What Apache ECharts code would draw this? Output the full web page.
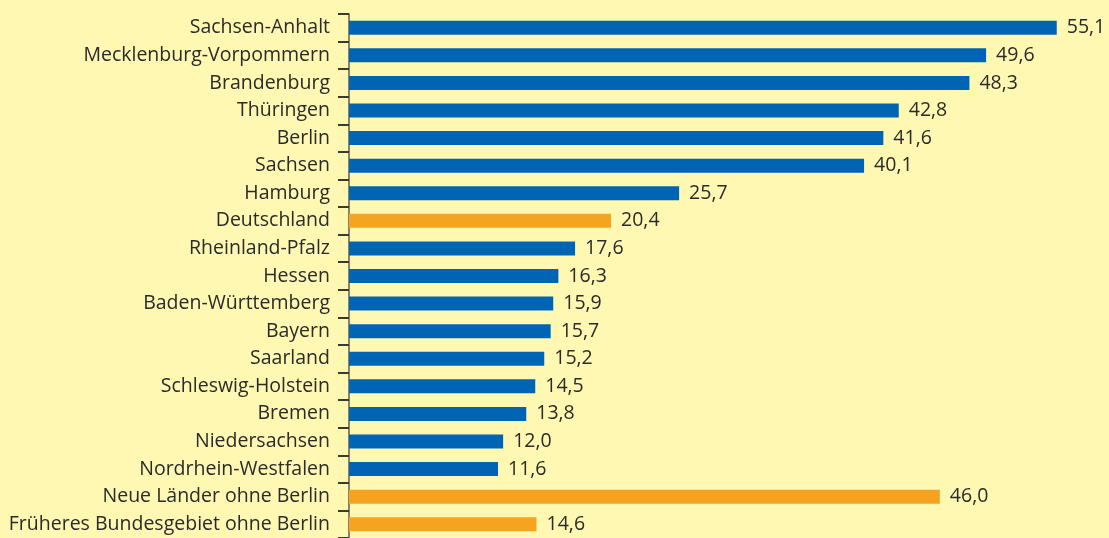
<!DOCTYPE html>
<html>
<head>
<meta charset="utf-8">
<script src="https://cdn.jsdelivr.net/npm/echarts@6/dist/echarts.min.js"></script>
<style>
  html, body { margin: 0; padding: 0; background: #fff8b2; }
  #chart { width: 1109px; height: 538px; }
</style>
</head>
<body>
<div id="chart"></div>
<script>
const regions = ['Sachsen-Anhalt', 'Mecklenburg-Vorpommern', 'Brandenburg', 'Thüringen', 'Berlin', 'Sachsen',
  'Hamburg', 'Deutschland', 'Rheinland-Pfalz', 'Hessen', 'Baden-Württemberg', 'Bayern', 'Saarland',
  'Schleswig-Holstein', 'Bremen', 'Niedersachsen', 'Nordrhein-Westfalen', 'Neue Länder ohne Berlin',
  'Früheres Bundesgebiet ohne Berlin']
const values = [55.1, 49.6, 48.3, 42.8, 41.6, 40.1, 25.7, 20.4, 17.6, 16.3, 15.9, 15.7, 15.2, 14.5, 13.8, 12.0, 11.6, 46.0, 14.6]
// Deutschland und die zusammengefassten Gebiete in Orange
const highlighted = ['Deutschland', 'Neue Länder ohne Berlin', 'Früheres Bundesgebiet ohne Berlin']

const BLUE = '#0064b4'
const ORANGE = '#f6a420'
const FONT = '"Open Sans", "Noto Sans", sans-serif'

const chart = echarts.init(document.getElementById('chart'))
chart.setOption({
  backgroundColor: '#fff8b2',
  animation: false,
  grid: { left: 349, top: 14, width: 745, height: 528 },
  xAxis: {
    type: 'value', min: 0, max: 58,
    show: false
  },
  yAxis: {
    type: 'category', data: regions, inverse: true,
    axisLine: { show: true, lineStyle: { color: '#8a8264', width: 2 } },
    axisTick: { show: true, inside: false, length: 11, lineStyle: { color: '#3a3a30', width: 2 } },
    axisLabel: { margin: 19, color: '#2a2a2a', fontSize: 19.5, fontFamily: FONT }
  },
  series: [{
    type: 'bar',
    barWidth: 14,
    data: values.map((v, i) => ({
      value: v,
      itemStyle: { color: highlighted.includes(regions[i]) ? ORANGE : BLUE }
    })),
    label: {
      show: true, position: 'right', distance: 10,
      color: '#2a2a2a', fontSize: 19.5, fontFamily: FONT,
      formatter: p => p.value.toFixed(1).replace('.', ',')
    }
  }]
})
</script>
</body>
</html>
